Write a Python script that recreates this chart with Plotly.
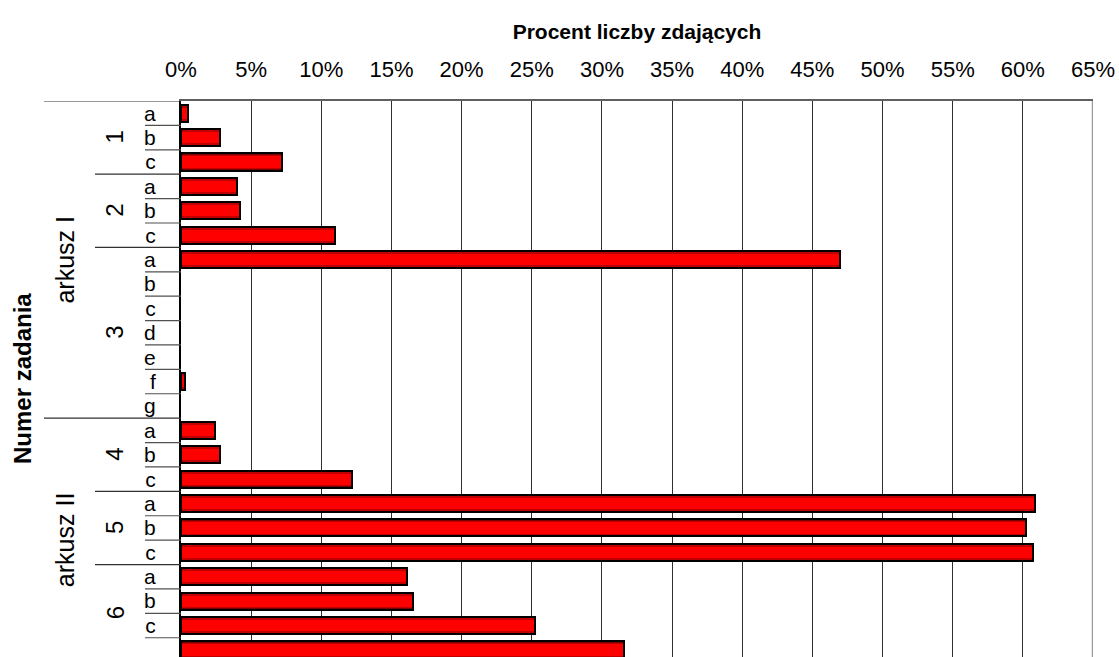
import plotly.graph_objects as go

# Task parts (letters) in display order, top to bottom
part_labels = ['a', 'b', 'c', 'a', 'b', 'c', 'a', 'b', 'c', 'd', 'e', 'f', 'g',
               'a', 'b', 'c', 'a', 'b', 'c', 'a', 'b', 'c', 'd']
# Percentage of test takers for each task part
percent_values = [0.5, 2.8, 7.2, 4.0, 4.2, 11.0, 47.0, 0, 0, 0, 0, 0.3, 0,
                  2.4, 2.8, 12.2, 60.9, 60.2, 60.7, 16.1, 16.5, 25.2, 31.6]
# Task numbers and how many parts each has
task_labels = ['1', '2', '3', '4', '5', '6']
task_sizes = [3, 3, 7, 3, 3, 4]
# Test sheets and how many parts each has
sheet_labels = ['arkusz I', 'arkusz II']
sheet_sizes = [13, 10]

x_ticks = list(range(0, 66, 5))

FONT = 'Arial, Liberation Sans, sans-serif'
W, H = 1119, 657
ML, MR, MT = 181, 26, 101
plot_w = W - ML - MR


def px_to_paper_x(px):
    return (px - ML) / plot_w


pos = list(range(len(part_labels)))

fig = go.Figure()

# Layered fills give the bars a shaded, cylinder-like look
for width, color in [(0.70, '#7a0000'), (0.60, '#c00000'), (0.46, '#ff0000')]:
    fig.add_trace(go.Bar(
        x=percent_values, y=pos, orientation='h', width=width,
        marker=dict(color=color, line=dict(width=0)),
        hoverinfo='skip', showlegend=False,
    ))
# Black outline on top (none for empty bars)
fig.add_trace(go.Bar(
    x=percent_values, y=pos, orientation='h', width=0.70,
    marker=dict(color='rgba(0,0,0,0)',
                line=dict(color='black', width=[2 if v > 0 else 0 for v in percent_values])),
    showlegend=False,
))

shapes = []
annotations = []

# Separator lines between parts, tasks and sheets
task_bounds = set()
acc = 0
for s in task_sizes:
    acc += s
    task_bounds.add(acc)
sheet_bounds = set()
acc = 0
for s in sheet_sizes:
    acc += s
    sheet_bounds.add(acc)

for b in range(0, len(part_labels)):
    if b == 0 or b in sheet_bounds:
        x0 = px_to_paper_x(44)
        col = '#303030'
    elif b in task_bounds:
        x0 = px_to_paper_x(95)
        col = '#303030'
    else:
        x0 = px_to_paper_x(145)
        col = '#505050'
    shapes.append(dict(type='line', xref='paper', yref='y', x0=x0, x1=0,
                       y0=b - 0.5, y1=b - 0.5, line=dict(color=col, width=1.2),
                       layer='above'))

# Right border of the plot area
shapes.append(dict(type='line', xref='x', yref='paper', x0=65, x1=65, y0=0, y1=1,
                   line=dict(color='#9a9a9a', width=2.5), layer='above'))

# Task number labels
start = 0
for lab, s in zip(task_labels, task_sizes):
    center = start + (s - 1) / 2
    annotations.append(dict(text=lab, xref='paper', yref='y', x=px_to_paper_x(115),
                            y=center, showarrow=False, textangle=-90,
                            font=dict(family=FONT, size=24, color='black'),
                            xanchor='center', yanchor='middle'))
    start += s

# Sheet labels
start = 0
for lab, s in zip(sheet_labels, sheet_sizes):
    center = start + (s - 1) / 2
    annotations.append(dict(text=lab, xref='paper', yref='y', x=px_to_paper_x(65),
                            y=center, showarrow=False, textangle=-90,
                            font=dict(family=FONT, size=25, color='black'),
                            xanchor='center', yanchor='middle'))
    start += s

# Vertical axis title
annotations.append(dict(text='<b>Numer zadania</b>', xref='paper', yref='paper',
                        x=px_to_paper_x(22), y=0.5, showarrow=False, textangle=-90,
                        font=dict(family=FONT, size=24, color='black'),
                        xanchor='center', yanchor='middle'))

fig.update_layout(
    width=W, height=H,
    margin=dict(l=ML, r=MR, t=MT, b=0, pad=0),
    paper_bgcolor='white', plot_bgcolor='white',
    barmode='overlay', bargap=0,
    showlegend=False,
    shapes=shapes, annotations=annotations,
    xaxis=dict(
        side='top', range=[0, 65], tickvals=x_ticks,
        ticktext=[f'{v}%' for v in x_ticks],
        showgrid=True, gridcolor='#303030', gridwidth=1,
        showline=True, linecolor='#606060', linewidth=1.5,
        zeroline=False, ticks='', ticklabelstandoff=13,
        tickfont=dict(family=FONT, size=22, color='black'),
        title=dict(text='<b>Procent liczby zdających</b>', standoff=12,
                   font=dict(family=FONT, size=21, color='black')),
        fixedrange=True,
    ),
    yaxis=dict(
        range=[22.29, -0.5], tickvals=pos, ticktext=part_labels,
        showgrid=False, zeroline=False,
        showline=True, linecolor='black', linewidth=2,
        ticks='', ticklabelstandoff=19,
        tickfont=dict(family=FONT, size=21, color='black'),
        fixedrange=True,
    ),
)

fig.write_html('out.html')
